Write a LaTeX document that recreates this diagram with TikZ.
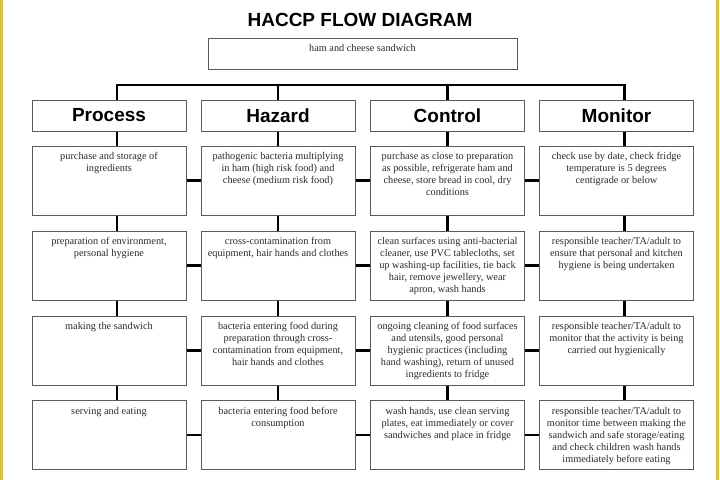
\documentclass[tikz,border=0pt]{standalone}
\usepackage{fontspec}
\setmainfont{Liberation Serif}
\setsansfont{Liberation Sans}
\usetikzlibrary{positioning}
\definecolor{edge}{HTML}{D8BF45}
\definecolor{boxline}{HTML}{5A5A5A}
\definecolor{ink}{HTML}{2A2A2A}
\newcommand{\celltext}[1]{\parbox[c][69pt][t]{150pt}{\centering\rule{0pt}{13.5pt}#1}}

\begin{document}
\begin{tikzpicture}[
  x=1pt,y=-1pt,
  head/.style={rectangle,draw=boxline,line width=1pt,minimum width=154pt,minimum height=31pt,inner sep=0pt,font=\fontsize{19}{22}\selectfont\sffamily\bfseries},
  cell/.style={rectangle,draw=boxline,line width=1pt,minimum width=154pt,minimum height=69pt,inner sep=0pt,text=ink,font=\fontsize{10.3}{12}\selectfont},
  link/.style={line width=2.6pt,black},
]
\useasboundingbox (0,0) rectangle (720,480);
\fill[edge] (0,0) rectangle (3,480);
\fill[edge] (716,0) rectangle (719,480);

\node[font=\fontsize{19}{22}\selectfont\sffamily\bfseries] (title) at (360,20) {HACCP FLOW DIAGRAM};
\node[rectangle,draw=boxline,line width=1pt,minimum width=309pt,minimum height=31pt,inner sep=0pt,text=ink,font=\fontsize{10.3}{12}\selectfont] (dish) at (362.5,53.5) {\parbox[c][31pt][t]{300pt}{\centering\rule{0pt}{13.5pt}ham and cheese sandwich}};

\node[head] (process) at (109,115.5) {Process};
\node[head] (hazard) at (278,115.5) {Hazard};
\node[head] (control) at (447.5,115.5) {Control};
\node[head] (monitor) at (616.5,115.5) {Monitor};

\node[cell] (p1) at (109,180.5) {\celltext{purchase and storage of\\ingredients}};
\node[cell] (h1) at (278,180.5) {\celltext{pathogenic bacteria multiplying\\in ham (high risk food) and\\cheese (medium risk food)}};
\node[cell] (c1) at (447.5,180.5) {\celltext{purchase as close to preparation\\as possible, refrigerate ham and\\cheese, store bread in cool, dry\\conditions}};
\node[cell] (m1) at (616.5,180.5) {\celltext{check use by date, check fridge\\temperature is 5 degrees\\centigrade or below}};

\node[cell] (p2) at (109,265.5) {\celltext{preparation of environment,\\personal hygiene}};
\node[cell] (h2) at (278,265.5) {\celltext{cross-contamination from\\equipment, hair hands and clothes}};
\node[cell] (c2) at (447.5,265.5) {\celltext{clean surfaces using anti-bacterial\\cleaner, use PVC tablecloths, set\\up washing-up facilities, tie back\\hair, remove jewellery, wear\\apron, wash hands}};
\node[cell] (m2) at (616.5,265.5) {\celltext{responsible teacher/TA/adult to\\ensure that personal and kitchen\\hygiene is being undertaken}};

\node[cell] (p3) at (109,350.5) {\celltext{making the sandwich}};
\node[cell] (h3) at (278,350.5) {\celltext{bacteria entering food during\\preparation through cross-\\contamination from equipment,\\hair hands and clothes}};
\node[cell] (c3) at (447.5,350.5) {\celltext{ongoing cleaning of food surfaces\\and utensils, good personal\\hygienic practices (including\\hand washing), return of unused\\ingredients to fridge}};
\node[cell] (m3) at (616.5,350.5) {\celltext{responsible teacher/TA/adult to\\monitor that the activity is being\\carried out hygienically}};

\node[cell] (p4) at (109,435) {\celltext{serving and eating}};
\node[cell] (h4) at (278,435) {\celltext{bacteria entering food before\\consumption}};
\node[cell] (c4) at (447.5,435) {\celltext{wash hands, use clean serving\\plates, eat immediately or cover\\sandwiches and place in fridge}};
\node[cell] (m4) at (616.5,435) {\celltext{responsible teacher/TA/adult to\\monitor time between making the\\sandwich and safe storage/eating\\and check children wash hands\\immediately before eating}};

\coordinate (bus) at (360,85);
\draw[link] ([xshift=8pt]process.north) |- (bus) -| ([xshift=8pt]monitor.north);
\draw[link] (hazard.north) -- (hazard.north |- bus);
\draw[link] (control.north) -- (control.north |- bus);

\draw[link] ([xshift=8pt]process.south) -- ([xshift=8pt]p1.north);
\draw[link] (hazard.south) -- (h1.north);
\draw[link] (control.south) -- (c1.north);
\draw[link] ([xshift=8pt]monitor.south) -- ([xshift=8pt]m1.north);

\foreach \a/\b in {1/2,2/3,3/4} {
  \draw[link] ([xshift=8pt]p\a.south) -- ([xshift=8pt]p\b.north);
  \draw[link] (h\a.south) -- (h\b.north);
  \draw[link] (c\a.south) -- (c\b.north);
  \draw[link] ([xshift=8pt]m\a.south) -- ([xshift=8pt]m\b.north);
}
\foreach \r in {1,...,4} {
  \draw[link] (p\r) -- (h\r);
  \draw[link] (h\r) -- (c\r);
  \draw[link] (c\r) -- (m\r);
}
\end{tikzpicture}
\end{document}
